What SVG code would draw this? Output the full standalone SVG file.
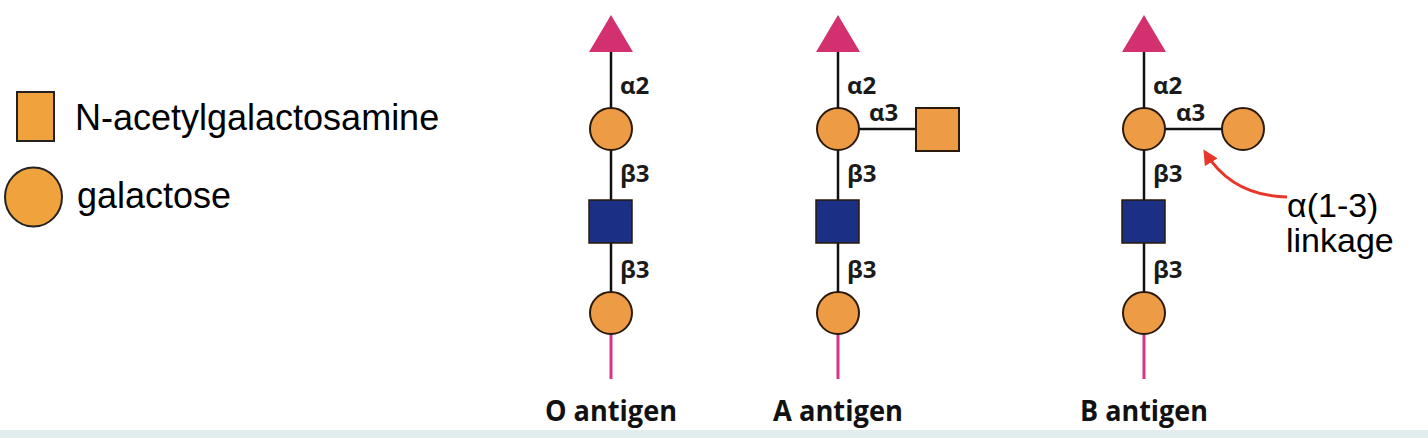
<svg xmlns="http://www.w3.org/2000/svg" width="1428" height="438" viewBox="0 0 1428 438">
<style>
.gal{fill:#EE9B45;stroke:#2a1a0a;stroke-width:2}
.gn{fill:#EE9B45;stroke:#2a1a0a;stroke-width:2}
.glc{fill:#1B2F85;stroke:#2a1a0a;stroke-width:1.5}
.fuc{fill:#D2306F;stroke:none}
.bond{stroke:#111;stroke-width:2.5;fill:none}
.root{stroke:#D6338A;stroke-width:3;fill:none}
.lk{font-family:"Open Sans","DejaVu Sans",sans-serif;font-weight:bold;font-size:24px;fill:#1a1a1a}
.cap{font-family:"Open Sans","DejaVu Sans",sans-serif;font-weight:bold;font-size:29px;fill:#111}
.leg{font-family:"Liberation Sans",Arial,sans-serif;font-size:36px;fill:#000}
.ann{font-family:"Liberation Sans",Arial,sans-serif;font-size:34px;fill:#000}
</style>
<defs>
<marker id="ah" viewBox="0 0 10 10" refX="8" refY="5" markerWidth="5" markerHeight="5" orient="auto-start-reverse" markerUnits="strokeWidth">
<path d="M0,0 L10,5 L0,10 z" fill="#E8362A"/>
</marker>
</defs>
<rect x="0" y="430" width="1428" height="8" fill="#E2EDED"/>

<g id="legend">
<g id="legend-galnac"><rect x="17" y="92" width="37" height="49" fill="#F0A23D" stroke="#222" stroke-width="2"/>
<text class="leg" x="75" y="130">N-acetylgalactosamine</text></g>
<g id="legend-gal"><ellipse cx="33.5" cy="197" rx="28.5" ry="29.5" fill="#F0A23D" stroke="#222" stroke-width="2"/>
<text class="leg" x="77" y="208">galactose</text></g>
</g>

<g id="connectors">
<line class="bond" x1="611" y1="50" x2="611" y2="292"/>
<line class="root" x1="611" y1="334" x2="611" y2="379"/>
<line class="bond" x1="838" y1="50" x2="838" y2="292"/>
<line class="bond" x1="859" y1="129" x2="916" y2="129"/>
<line class="root" x1="838" y1="334" x2="838" y2="379"/>
<line class="bond" x1="1144" y1="50" x2="1144" y2="292"/>
<line class="bond" x1="1165" y1="129" x2="1222" y2="129"/>
<line class="root" x1="1144" y1="334" x2="1144" y2="379"/>
<path d="M1287,197 Q1232,196 1205,152" stroke="#E8362A" stroke-width="3" fill="none" marker-end="url(#ah)"/>
</g>

<g id="O-antigen">
<polygon class="fuc" points="611,15 589,52 633,52"/>
<circle class="gal" cx="611" cy="129" r="21"/>
<rect class="glc" x="589" y="200" width="43" height="43"/>
<circle class="gal" cx="611" cy="313" r="21"/>
<text class="lk" x="620" y="94">α2</text>
<text class="lk" x="620" y="182">β3</text>
<text class="lk" x="620" y="278">β3</text>
<text class="cap" x="545" y="421" textLength="132" lengthAdjust="spacingAndGlyphs">O antigen</text>
</g>

<g id="A-antigen">
<polygon class="fuc" points="838,15 816,52 860,52"/>
<circle class="gal" cx="838" cy="129" r="21"/>
<rect class="gn" x="916" y="108" width="43" height="43"/>
<rect class="glc" x="816" y="200" width="43" height="43"/>
<circle class="gal" cx="838" cy="313" r="21"/>
<text class="lk" x="847" y="94">α2</text>
<text class="lk" x="869" y="121">α3</text>
<text class="lk" x="847" y="182">β3</text>
<text class="lk" x="847" y="278">β3</text>
<text class="cap" x="773" y="421" textLength="130" lengthAdjust="spacingAndGlyphs">A antigen</text>
</g>

<g id="B-antigen">
<polygon class="fuc" points="1144,15 1122,52 1166,52"/>
<circle class="gal" cx="1144" cy="129" r="21"/>
<circle class="gal" cx="1243" cy="129" r="21"/>
<rect class="glc" x="1122" y="200" width="43" height="43"/>
<circle class="gal" cx="1144" cy="313" r="21"/>
<text class="lk" x="1153" y="94">α2</text>
<text class="lk" x="1176" y="121">α3</text>
<text class="lk" x="1153" y="182">β3</text>
<text class="lk" x="1153" y="278">β3</text>
<text class="cap" x="1080" y="421" textLength="128" lengthAdjust="spacingAndGlyphs">B antigen</text>
</g>

<g id="annotation">
<text class="ann" x="1287" y="217">α(1-3)</text>
<text class="ann" x="1286" y="252">linkage</text>
</g>
</svg>
